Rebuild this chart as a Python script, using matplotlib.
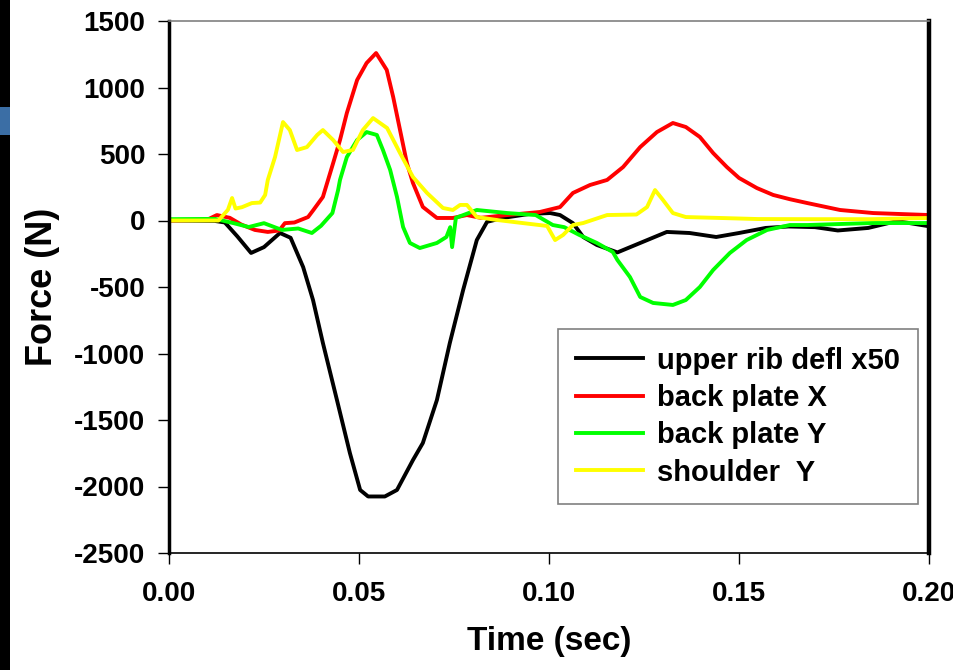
import numpy as np
import matplotlib
matplotlib.use("Agg")
import matplotlib.pyplot as plt
from matplotlib.patches import Rectangle


# upper rib deflection (x50)
rib_t = [0.000, 0.012, 0.0147, 0.018, 0.0216, 0.025, 0.0292, 0.032, 0.0353,
         0.0379, 0.0405, 0.0442, 0.0476, 0.0503, 0.0524, 0.0568, 0.060, 0.0642,
         0.0668, 0.0705, 0.0739, 0.0774, 0.081, 0.0837, 0.088, 0.095, 0.1003,
         0.1029, 0.1063, 0.109, 0.1126, 0.118, 0.124, 0.131, 0.137, 0.144,
         0.150, 0.157, 0.163, 0.170, 0.176, 0.184, 0.1916, 0.1995, 0.200]
rib_f = [0, -3, -15, -120, -244, -200, -94, -130, -350,
         -598, -921, -1350, -1748, -2026, -2075, -2075, -2026, -1801,
         -1673, -1350, -921, -523, -147, -10, 20, 50, 56,
         41, -20, -124, -184, -240, -169, -86, -94, -124,
         -94, -56, -45, -50, -75, -56, -4, -41, -42]

# back plate X
bpx_t = [0.000, 0.010, 0.0126, 0.016, 0.019, 0.0226, 0.026, 0.029, 0.0305,
         0.033, 0.0366, 0.038, 0.0405, 0.0432, 0.045, 0.0468, 0.0495, 0.052,
         0.0545, 0.0573, 0.059, 0.0608, 0.0626, 0.0642, 0.0668, 0.0705, 0.0747,
         0.0784, 0.082, 0.089, 0.0976, 0.1029, 0.1063, 0.1108, 0.1153, 0.1195,
         0.124, 0.1284, 0.1326, 0.136, 0.1397, 0.1432, 0.1468, 0.150, 0.1547,
         0.159, 0.1634, 0.168, 0.1766, 0.1853, 0.200]
bpx_f = [0, 5, 41, 20, -30, -71, -86, -75, -20,
         -15, 26, 79, 177, 432, 605, 808, 1056, 1184,
         1259, 1132, 928, 680, 432, 282, 102, 19, 19,
         41, 20, 41, 64, 101, 207, 267, 305, 402,
         552, 665, 733, 703, 628, 507, 402, 320, 244,
         192, 160, 131, 79, 56, 41]

# back plate Y
bpy_t = [0.000, 0.012, 0.014, 0.017, 0.021, 0.025, 0.0297, 0.034, 0.0376,
         0.040, 0.043, 0.0445, 0.045, 0.0468, 0.0495, 0.052, 0.0547, 0.0563,
         0.0582, 0.060, 0.0616, 0.0634, 0.066, 0.0705, 0.073, 0.074, 0.0745,
         0.0755, 0.081, 0.089, 0.0965, 0.101, 0.104, 0.108, 0.1126, 0.1168,
         0.118, 0.1213, 0.124, 0.1274, 0.1326, 0.136, 0.1397, 0.1432, 0.1476,
         0.152, 0.1574, 0.1634, 0.168, 0.185, 0.200]
bpy_f = [10, 12, 0, -20, -49, -20, -71, -60, -94,
         -40, 56, 229, 305, 477, 605, 665, 643, 530,
         380, 177, -49, -169, -207, -169, -124, -50, -200,
         20, 79, 56, 41, -34, -50, -109, -169, -237,
         -297, -425, -575, -620, -635, -598, -500, -372, -244,
         -147, -71, -34, -34, -19, -19]

# shoulder Y
sh_t = [0.000, 0.013, 0.0155, 0.0166, 0.0175, 0.0192, 0.0218, 0.024, 0.0253,
        0.026, 0.0279, 0.030, 0.0318, 0.0337, 0.0363, 0.039, 0.0405, 0.0432,
        0.0458, 0.0484, 0.051, 0.0537, 0.0574, 0.0608, 0.0642, 0.0679, 0.0721,
        0.0747, 0.0766, 0.0784, 0.081, 0.086, 0.093, 0.0995, 0.1016, 0.1037,
        0.1063, 0.109, 0.1153, 0.123, 0.1258, 0.1279, 0.130, 0.1326, 0.136,
        0.145, 0.155, 0.170, 0.185, 0.200]
sh_f = [0, 0, 80, 169, 90, 100, 131, 135, 192,
        305, 477, 740, 680, 530, 552, 643, 680, 605,
        515, 530, 680, 770, 695, 507, 327, 207, 94,
        79, 117, 117, 26, 5, -19, -41, -147, -109,
        -34, -19, 41, 45, 101, 229, 154, 56, 26,
        19, 11, 10, 10, 19]

labels = ["upper rib defl x50", "back plate X", "back plate Y", "shoulder  Y"]
colors = ["#000000", "#ff0000", "#00ff00", "#ffff00"]
x_ticks = [0.00, 0.05, 0.10, 0.15, 0.20]
y_ticks = [-2500, -2000, -1500, -1000, -500, 0, 500, 1000, 1500]

plt.rcParams["font.family"] = ["Liberation Sans", "DejaVu Sans"]
plt.rcParams["font.weight"] = "bold"
plt.rcParams["axes.unicode_minus"] = False

fig = plt.figure(figsize=(9.54, 6.70), dpi=100)
ax = fig.add_axes([169 / 954, 1 - 553 / 670, 760 / 954, 532 / 670])

# slide leftovers on the left edge
fig.patches.append(Rectangle((0, 0), 10 / 954, 1, transform=fig.transFigure,
                             facecolor="black", edgecolor="none"))
fig.patches.append(Rectangle((0, 1 - 135 / 670), 10 / 954, 28 / 670,
                             transform=fig.transFigure,
                             facecolor="#3b6ea5", edgecolor="none"))

series = [(rib_t, rib_f), (bpx_t, bpx_f), (bpy_t, bpy_f), (sh_t, sh_f)]
for (t, f), lab, c in zip(series, labels, colors):
    ax.plot(t, f, color=c, lw=2.8, label=lab)

ax.set_xlim(0, 0.2)
ax.set_ylim(-2500, 1500)
ax.set_xticks(x_ticks)
ax.set_xticklabels(["%.2f" % v for v in x_ticks])
ax.set_yticks(y_ticks)
ax.tick_params(direction="out", length=8, width=1, labelsize=20)
ax.tick_params(axis="x", pad=12)
ax.tick_params(axis="y", pad=9)

ax.spines["left"].set_linewidth(2.5)
ax.spines["right"].set_linewidth(3.2)
ax.spines["top"].set_linewidth(1.2)
ax.spines["top"].set_color("#808080")
ax.spines["bottom"].set_linewidth(1.2)

ax.set_xlabel("Time (sec)", fontsize=24, fontweight="bold", labelpad=14)
ax.set_ylabel("Force (N)", fontsize=26, fontweight="bold", labelpad=10)

leg = ax.legend(loc="lower right", bbox_to_anchor=(0.9855, 0.092),
                borderaxespad=0, fontsize=21, handlelength=2.3,
                handletextpad=0.5, labelspacing=0.32, borderpad=0.6,
                fancybox=False, framealpha=1)
leg.get_frame().set_edgecolor("#808080")
leg.get_frame().set_linewidth(1.2)

fig.savefig("out.png", dpi=100)
